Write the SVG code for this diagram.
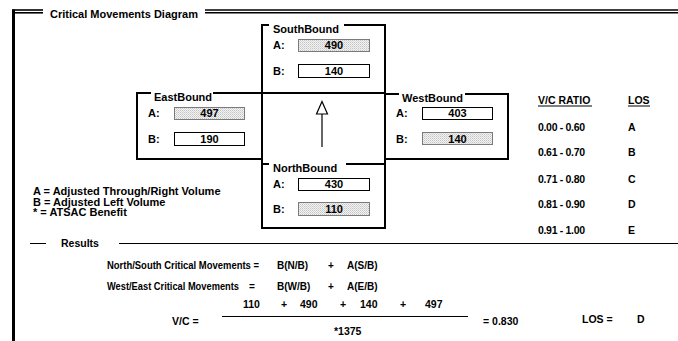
<svg xmlns="http://www.w3.org/2000/svg" width="678" height="341" viewBox="0 0 678 341">
<style>
text{font-family:"Liberation Sans",Arial,Helvetica,sans-serif;font-weight:bold;font-size:11px;fill:#000}
.sm{font-size:10.5px}
.fm{font-size:10px}
.frame{stroke:#000;fill:none}
.box{fill:none;stroke:#000;stroke-width:2}
.gap{fill:#fff}
.in{fill:#fff;stroke:#000;stroke-width:1}
.sh{fill:url(#dots);stroke:#7a7a7a;stroke-width:1}
.mid{text-anchor:middle}
.ul{stroke:#000;stroke-width:1}
</style>
<defs>
<pattern id="dots" width="2" height="2" patternUnits="userSpaceOnUse">
<rect width="2" height="2" fill="#f2f2f2"/>
<rect width="1" height="1" fill="#c4c4c4"/>
<rect x="1" y="1" width="1" height="1" fill="#d8d8d8"/>
</pattern>
</defs>
<rect width="678" height="341" fill="#fff"/>
<g id="frame">
<line class="frame" x1="13.5" y1="9.5" x2="13.5" y2="341" stroke-width="3"/>
<line class="frame" x1="12" y1="10" x2="43" y2="10" stroke-width="1.6"/>
<line class="frame" x1="15" y1="12.8" x2="43" y2="12.8" stroke-width="1.6"/>
<line class="frame" x1="205" y1="10" x2="678" y2="10" stroke-width="1.6"/>
<line class="frame" x1="205" y1="12.8" x2="678" y2="12.8" stroke-width="1.6"/>
<text x="50" y="18">Critical Movements Diagram</text>
</g>
<g id="southbound">
<rect class="box" x="262" y="25" width="123" height="68"/>
<rect class="gap" x="269" y="22" width="75" height="6"/>
<text x="273" y="32.5">SouthBound</text>
<text x="273" y="49">A:</text>
<rect class="sh" x="298.5" y="39.5" width="71" height="12"/>
<text class="mid" x="334" y="49">490</text>
<text x="273" y="74.5">B:</text>
<rect class="in" x="298.5" y="64.5" width="71" height="13"/>
<text class="mid" x="334" y="74.5">140</text>
</g>
<g id="eastbound">
<rect class="box" x="137" y="93" width="125" height="66"/>
<rect class="gap" x="151" y="90" width="62" height="6"/>
<text x="154" y="100.5">EastBound</text>
<text x="148" y="117">A:</text>
<rect class="sh" x="174.5" y="107.5" width="70" height="12"/>
<text class="mid" x="209.5" y="117">497</text>
<text x="148" y="142.5">B:</text>
<rect class="in" x="174.5" y="132.5" width="70" height="13"/>
<text class="mid" x="209.5" y="142.5">190</text>
</g>
<g id="center">
<rect class="box" x="262" y="93" width="123" height="71"/>
</g>
<g id="westbound">
<rect class="box" x="385" y="94" width="123" height="65"/>
<rect class="gap" x="399" y="91" width="66" height="6"/>
<text x="402" y="101.5">WestBound</text>
<text x="396" y="117">A:</text>
<rect class="in" x="422.5" y="107.5" width="70" height="12"/>
<text class="mid" x="457.5" y="117">403</text>
<text x="396" y="142.5">B:</text>
<rect class="sh" x="422.5" y="132.5" width="70" height="12"/>
<text class="mid" x="457.5" y="142.5">140</text>
</g>
<g id="northbound">
<rect class="box" x="262" y="164" width="123" height="64"/>
<rect class="gap" x="269" y="161" width="77" height="6"/>
<text x="273" y="171.5">NorthBound</text>
<text x="273" y="188">A:</text>
<rect class="in" x="298.5" y="178.5" width="71" height="12"/>
<text class="mid" x="334" y="188">430</text>
<text x="273" y="213">B:</text>
<rect class="sh" x="298.5" y="202.5" width="71" height="13"/>
<text class="mid" x="334" y="213">110</text>
</g>
<g id="connectors">
<line x1="322" y1="113" x2="322" y2="147" stroke="#000" stroke-width="1.2"/>
<polygon points="322,101.5 316.5,114 327.5,114" fill="#fff" stroke="#000" stroke-width="1.2"/>
</g>
<g id="legend">
<text x="33" y="195">A = Adjusted Through/Right Volume</text>
<text x="33" y="205.5">B = Adjusted Left Volume</text>
<text x="33" y="216">* = ATSAC Benefit</text>
</g>
<g id="los-table">
<text class="sm" x="538" y="104">V/C RATIO</text>
<line class="ul" x1="538" y1="106" x2="592" y2="106"/>
<text class="sm" x="628" y="104">LOS</text>
<line class="ul" x1="628" y1="106" x2="650" y2="106"/>
<text class="sm" x="538" y="131" textLength="47">0.00 - 0.60</text><text class="sm" x="628" y="131">A</text>
<text class="sm" x="538" y="156" textLength="47">0.61 - 0.70</text><text class="sm" x="628" y="156">B</text>
<text class="sm" x="538" y="183" textLength="47">0.71 - 0.80</text><text class="sm" x="628" y="183">C</text>
<text class="sm" x="538" y="208" textLength="47">0.81 - 0.90</text><text class="sm" x="628" y="208">D</text>
<text class="sm" x="538" y="234" textLength="47">0.91 - 1.00</text><text class="sm" x="628" y="234">E</text>
</g>
<g id="results">
<line x1="30" y1="243.5" x2="46" y2="243.5" stroke="#000" stroke-width="1"/>
<text class="sm" x="61" y="247">Results</text>
<line x1="119" y1="243.5" x2="678" y2="243.5" stroke="#000" stroke-width="1"/>
<text class="fm" x="107" y="269" textLength="152" lengthAdjust="spacingAndGlyphs">North/South Critical Movements =</text>
<text class="fm" x="277" y="269">B(N/B)</text>
<text class="fm" x="328" y="269">+</text>
<text class="fm" x="347" y="269">A(S/B)</text>
<text class="fm" x="107" y="290" textLength="132" lengthAdjust="spacingAndGlyphs">West/East Critical Movements</text>
<text class="fm" x="249" y="290">=</text>
<text class="fm" x="277" y="290">B(W/B)</text>
<text class="fm" x="328" y="290">+</text>
<text class="fm" x="347" y="290">A(E/B)</text>
<text class="sm" x="172" y="325">V/C =</text>
<text class="sm" x="243" y="308">110</text>
<text class="sm" x="281" y="308">+</text>
<text class="sm" x="300" y="308">490</text>
<text class="sm" x="340" y="308">+</text>
<text class="sm" x="360" y="308">140</text>
<text class="sm" x="400" y="308">+</text>
<text class="sm" x="425" y="308">497</text>
<line x1="222" y1="316.5" x2="468" y2="316.5" stroke="#000" stroke-width="1"/>
<text class="sm" x="334" y="335">*1375</text>
<text class="sm" x="483" y="325">= 0.830</text>
<text class="sm" x="582" y="323">LOS =</text>
<text class="sm" x="637" y="323">D</text>
</g>
</svg>
